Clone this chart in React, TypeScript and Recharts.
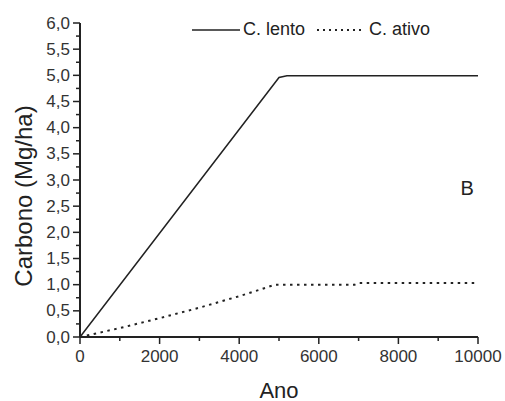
import React from 'react';
import { LineChart, Line, XAxis, YAxis, Legend, ReferenceDot } from 'recharts';

// anos e valores
const lentoAnos = [0, 5000, 5200, 10000];
const lentoValores = [0, 4.96, 4.99, 4.99];

const ativoAnos = [0, 1000, 2000, 3000, 4000, 4500, 4900, 6900, 7000, 10000];
const ativoValores = [0, 0.17, 0.36, 0.56, 0.78, 0.9, 1.0, 1.0, 1.03, 1.03];

const xMajorTicks = [0, 2000, 4000, 6000, 8000, 10000];
const yMajorTicks = [0, 0.5, 1.0, 1.5, 2.0, 2.5, 3.0, 3.5, 4.0, 4.5, 5.0, 5.5, 6.0];

const xAllTicks = [...xMajorTicks, ...xMajorTicks.slice(1).map(t => t - 1000)].sort((a, b) => a - b);
const yAllTicks = [...yMajorTicks, ...yMajorTicks.slice(1).map(t => t - 0.25)].sort((a, b) => a - b);

const lentoData = lentoAnos.map((ano, i) => ({ ano, c: lentoValores[i] }));
const ativoData = ativoAnos.map((ano, i) => ({ ano, c: ativoValores[i] }));

const INK = '#222';
const FONT = '"Liberation Sans", Arial, sans-serif';
const DOTS = '2.5 4.5';

const YTick = ({ x, y, payload }: any) => {
  const axisX = x + 10;
  const major = yMajorTicks.includes(payload.value);
  return (
    <g>
      <line x1={axisX - (major ? 7 : 4)} x2={axisX} y1={y} y2={y} stroke={INK} strokeWidth={1.5} />
      {major && (
        <text x={x} y={y} textAnchor="end" dominantBaseline="central" fontSize={17} fill="#333" fontFamily={FONT}>
          {payload.value.toFixed(1).replace('.', ',')}
        </text>
      )}
    </g>
  );
};

const XTick = ({ x, y, payload }: any) => {
  const axisY = y - 10;
  const major = xMajorTicks.includes(payload.value);
  return (
    <g>
      <line x1={x} x2={x} y1={axisY} y2={axisY + (major ? 7 : 4)} stroke={INK} strokeWidth={1.5} />
      {major && (
        <text x={x} y={axisY + 19} textAnchor="middle" dominantBaseline="central" fontSize={17} fill="#333" fontFamily={FONT}>
          {payload.value}
        </text>
      )}
    </g>
  );
};

const LegendContent = () => (
  <div style={{ display: 'flex', alignItems: 'center', fontFamily: FONT, fontSize: 18, color: INK, whiteSpace: 'nowrap' }}>
    <svg width={48} height={10}>
      <line x1={0} x2={48} y1={5} y2={5} stroke={INK} strokeWidth={1.5} />
    </svg>
    <span style={{ marginLeft: 3 }}>C. lento</span>
    <svg width={48} height={10} style={{ marginLeft: 12 }}>
      <line x1={0} x2={48} y1={5} y2={5} stroke={INK} strokeWidth={1.8} strokeDasharray="2 4" />
    </svg>
    <span style={{ marginLeft: 4 }}>C. ativo</span>
  </div>
);

export default function App() {
  return (
    <div style={{ position: 'absolute', left: 0, top: 0, background: '#fff' }}>
      <LineChart width={505} height={401} margin={{ top: 23, right: 27, bottom: 0, left: 0 }} style={{ fontFamily: FONT }}>
        <XAxis
          dataKey="ano"
          type="number"
          domain={[0, 10000]}
          ticks={xAllTicks}
          interval={0}
          height={64}
          tickSize={7}
          tickMargin={3}
          tickLine={false}
          tick={<XTick />}
          axisLine={{ stroke: INK, strokeWidth: 2 }}
          label={({ viewBox }: any) => (
            <text
              x={viewBox.x + viewBox.width / 2}
              y={viewBox.y + 53}
              textAnchor="middle"
              dominantBaseline="central"
              fontSize={22}
              fill={INK}
              fontFamily={FONT}
            >
              Ano
            </text>
          )}
        />
        <YAxis
          type="number"
          domain={[0, 6]}
          ticks={yAllTicks}
          interval={0}
          width={80}
          tickSize={7}
          tickMargin={3}
          tickLine={false}
          tick={<YTick />}
          axisLine={{ stroke: INK, strokeWidth: 2 }}
          label={({ viewBox }: any) => {
            const cx = viewBox.x + 23;
            const cy = viewBox.y + viewBox.height / 2 + 16;
            return (
              <text
                x={cx}
                y={cy}
                transform={`rotate(-90, ${cx}, ${cy})`}
                textAnchor="middle"
                dominantBaseline="central"
                fontSize={24}
                fill={INK}
                fontFamily={FONT}
              >
                Carbono (Mg/ha)
              </text>
            );
          }}
        />
        <Legend
          content={<LegendContent />}
          layout="horizontal"
          verticalAlign="middle"
          align="center"
          wrapperStyle={{ top: 19, left: 192, width: 'auto' }}
        />
        <Line
          data={lentoData}
          dataKey="c"
          name="C. lento"
          type="linear"
          stroke={INK}
          strokeWidth={1.5}
          dot={false}
          activeDot={false}
          isAnimationActive={false}
        />
        <Line
          data={ativoData}
          dataKey="c"
          name="C. ativo"
          type="linear"
          stroke={INK}
          strokeWidth={2}
          strokeDasharray={DOTS}
          dot={false}
          activeDot={false}
          isAnimationActive={false}
        />
        <ReferenceDot
          x={9725}
          y={2.85}
          r={0}
          fill="none"
          stroke="none"
          label={{ value: 'B', position: 'center', fontSize: 20, fill: INK, fontFamily: FONT }}
        />
      </LineChart>
    </div>
  );
}
